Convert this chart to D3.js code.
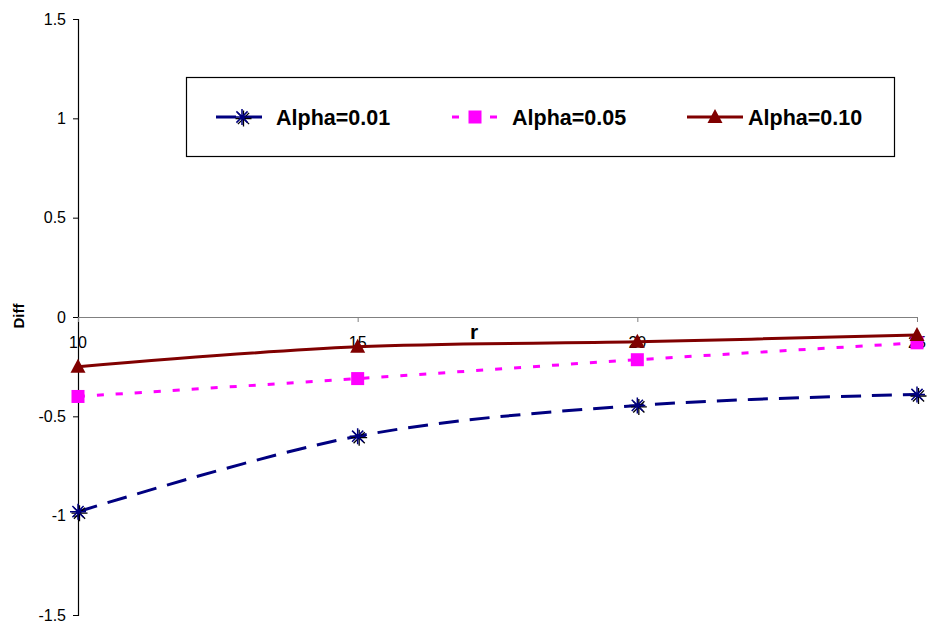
<!DOCTYPE html>
<html>
<head>
<meta charset="utf-8">
<script src="https://cdn.jsdelivr.net/npm/d3@7"></script>
<style>
	body { margin: 0; background: #fff; }
	text { font-family: "Liberation Sans", Arial, sans-serif; }
</style>
</head>
<body>
<svg id="svg"></svg>
<script>
// categories and values
const rValues = ['10', '15', '20', '25']
const alpha001 = [-0.98, -0.60, -0.445, -0.39]
const alpha005 = [-0.40, -0.31, -0.215, -0.13]
const alpha010 = [-0.25, -0.15, -0.125, -0.09]
const yTicks = [-1.5, -1, -0.5, 0, 0.5, 1, 1.5]

const seriesNames = ['Alpha=0.01', 'Alpha=0.05', 'Alpha=0.10']

const W = 929, H = 626
const svg = d3.select('#svg').attr('width', W).attr('height', H)

const x = d3.scalePoint().domain(rValues).range([78, 917])
const y = d3.scaleLinear().domain([-1.5, 1.5]).range([615, 19])

// y axis
const yAxis = svg.append('g')
	.attr('transform', 'translate(78,0)')
	.call(d3.axisLeft(y).tickValues(yTicks).tickSize(5).tickFormat(d => d))
yAxis.select('.domain').attr('stroke', '#000').attr('stroke-width', 1.2)
yAxis.selectAll('.tick line').attr('stroke', '#000')
yAxis.selectAll('.tick text')
	.attr('x', -12)
	.attr('font-size', 16)
	.attr('font-family', '"Liberation Sans", Arial, sans-serif')
	.attr('fill', '#000')

// x axis along zero, grey
const xAxis = svg.append('g')
	.attr('transform', `translate(0,${y(0)})`)
	.call(d3.axisBottom(x).tickSize(5).tickSizeOuter(0).tickFormat(() => ''))
xAxis.select('.domain').attr('stroke', '#808080').attr('stroke-width', 1.2)
xAxis.selectAll('.tick line').attr('stroke', '#808080')

svg.append('text')
	.attr('transform', 'translate(24,316) rotate(-90)')
	.attr('text-anchor', 'middle')
	.attr('font-size', 15)
	.attr('font-weight', 'bold')
	.text('Diff')

svg.append('text')
	.attr('x', 474)
	.attr('y', 339)
	.attr('text-anchor', 'middle')
	.attr('font-size', 21)
	.attr('font-weight', 'bold')
	.text('r')

// category labels below the zero line
svg.selectAll('text.xlab')
	.data(rValues).enter()
	.append('text')
	.attr('class', 'xlab')
	.attr('x', d => x(d))
	.attr('y', 348)
	.attr('text-anchor', 'middle')
	.attr('font-size', 16)
	.text(d => d)

const line = d3.line()
	.curve(d3.curveCatmullRom.alpha(0.5))
	.x((d, i) => x(rValues[i]))
	.y(d => y(d))

const series = [
	{name: seriesNames[0], values: alpha001, color: '#000080', dash: '20,11', marker: 'star'},
	{name: seriesNames[1], values: alpha005, color: '#FF00FF', dash: '7,12', marker: 'square'},
	{name: seriesNames[2], values: alpha010, color: '#800000', dash: null, marker: 'triangle'},
]

function drawMarker(g, type, cx, cy, color) {
	if (type === 'star') {
		const r = 8
		const p = `M${cx - r},${cy}h${2 * r}M${cx - r * 0.7},${cy - r * 0.7}l${1.4 * r},${1.4 * r}M${cx - r * 0.7},${cy + r * 0.7}l${1.4 * r},${-1.4 * r}M${cx},${cy - r}v${2 * r}`
		g.append('path').attr('d', p).attr('stroke', '#000').attr('stroke-width', 1.3)
			.attr('transform', 'translate(1.5,1.5)')
		g.append('path').attr('d', p).attr('stroke', color).attr('stroke-width', 1.5)
	} else if (type === 'square') {
		g.append('rect').attr('x', cx - 6.5).attr('y', cy - 6.5).attr('width', 13).attr('height', 13)
			.attr('fill', color)
	} else {
		g.append('path')
			.attr('d', `M${cx},${cy - 8}L${cx + 7.5},${cy + 6}L${cx - 7.5},${cy + 6}Z`)
			.attr('fill', color)
	}
}

series.forEach(s => {
	svg.append('path')
		.datum(s.values)
		.attr('d', line)
		.attr('fill', 'none')
		.attr('stroke', s.color)
		.attr('stroke-width', 3)
		.attr('stroke-dasharray', s.dash)
	const g = svg.append('g')
	s.values.forEach((v, i) => drawMarker(g, s.marker, x(rValues[i]), y(v), s.color))
})

// legend
const lg = svg.append('g')
lg.append('rect')
	.attr('x', 186.5).attr('y', 77.5).attr('width', 708).attr('height', 79)
	.attr('fill', '#fff').attr('stroke', '#000').attr('stroke-width', 1.2)

const legendPos = [
	{x1: 216, x2: 268, tx: 276},
	{x1: 452, x2: 498, tx: 512},
	{x1: 687, x2: 743, tx: 748},
]
const ly = 117
series.forEach((s, i) => {
	const p = legendPos[i]
	lg.append('line')
		.attr('x1', p.x1).attr('x2', p.x2).attr('y1', ly).attr('y2', ly)
		.attr('stroke', s.color).attr('stroke-width', 3)
		.attr('stroke-dasharray', s.dash ? (i === 0 ? '20,6' : '7,12') : null)
	const mg = lg.append('g')
	drawMarker(mg, s.marker, (p.x1 + p.x2) / 2, ly, s.color)
	lg.append('text')
		.attr('x', p.tx).attr('y', ly + 7.5)
		.attr('font-size', 21.5)
		.attr('font-weight', 'bold')
		.text(s.name)
})
</script>
</body>
</html>
